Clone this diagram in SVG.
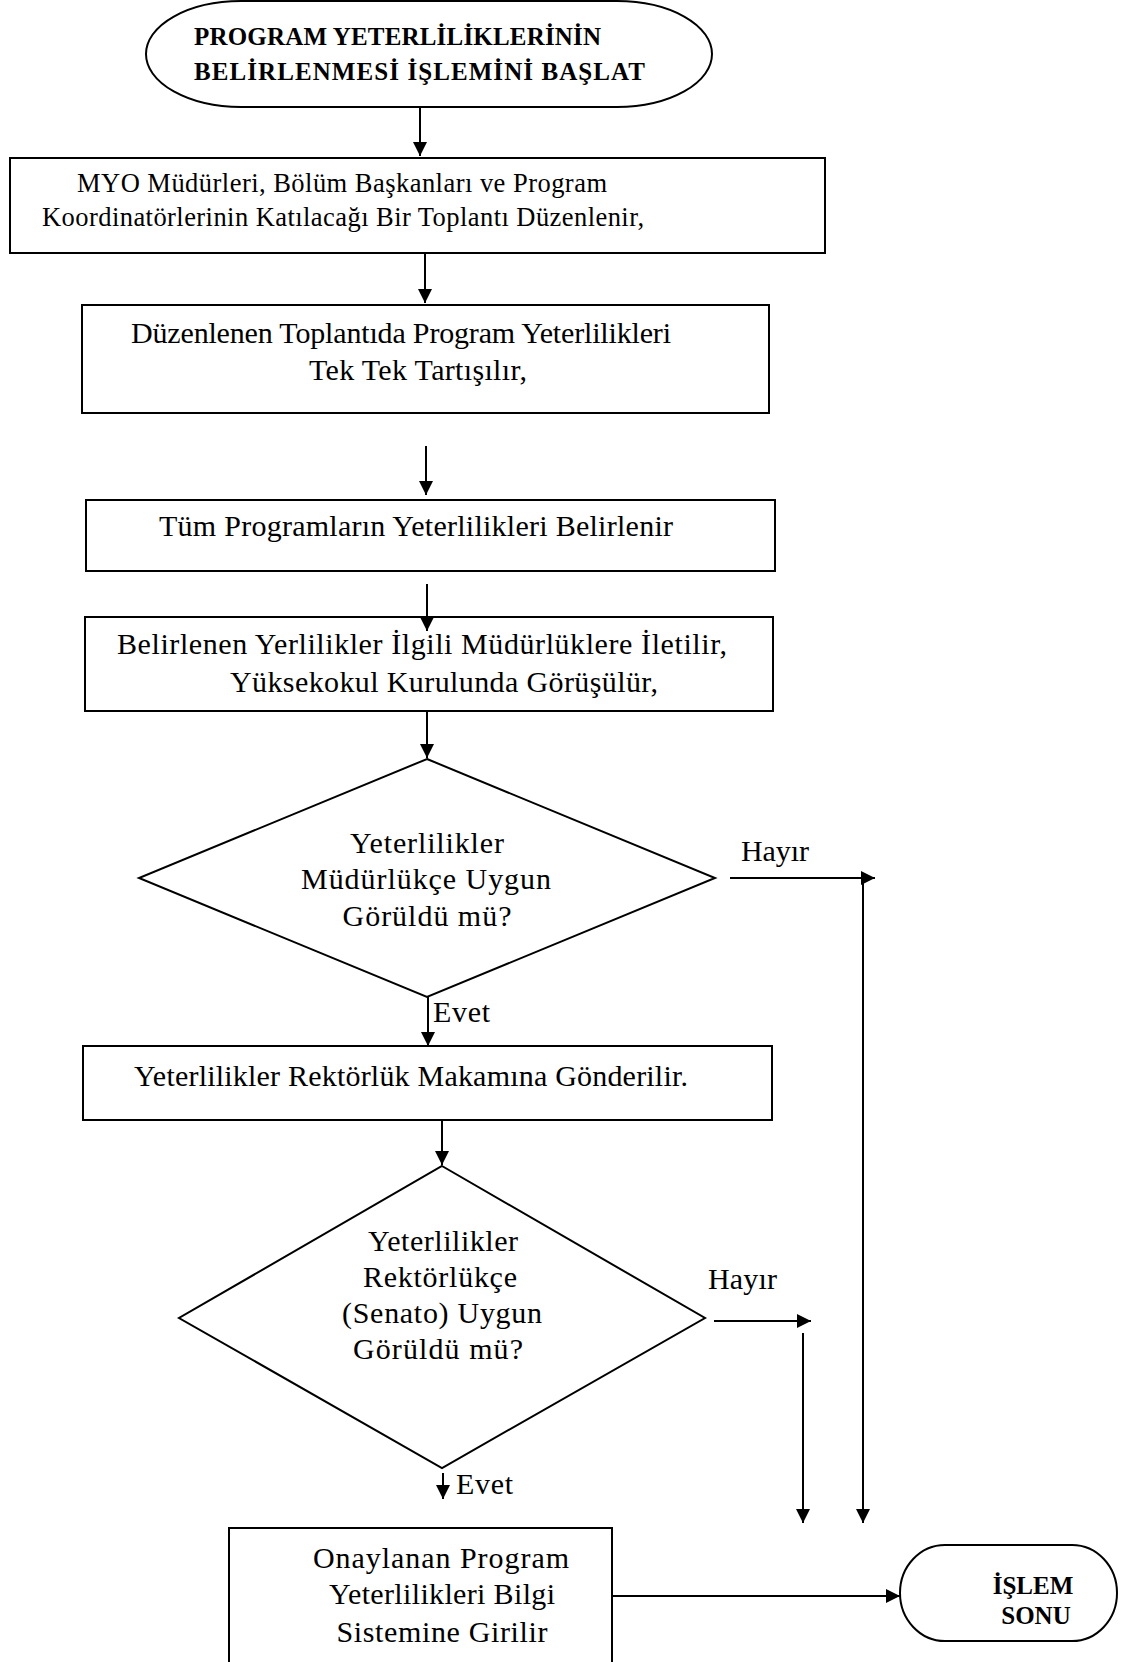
<svg xmlns="http://www.w3.org/2000/svg" width="1139" height="1662" viewBox="0 0 1139 1662">
<style>
.shape{fill:#fff;stroke:#000;stroke-width:2}
.conn{fill:none;stroke:#000;stroke-width:2}
text{font-family:"Liberation Serif","Times New Roman",serif;fill:#000}
.t{font-size:30px}
.s{font-size:26.5px}
.b{font-size:25px;font-weight:bold}
.m{text-anchor:middle}
</style>
<defs>
<marker id="ah" markerUnits="userSpaceOnUse" markerWidth="15" markerHeight="14" refX="14" refY="7" orient="auto" viewBox="0 0 15 14">
<path d="M0,0 L14,7 L0,14 z" fill="#000"/>
</marker>
</defs>
<rect width="1139" height="1662" fill="#fff"/>

<g id="start">
<rect class="shape" x="146" y="1" width="566" height="106" rx="95" ry="53"/>
<text class="b" x="194" y="45" textLength="407">PROGRAM YETERLİLİKLERİNİN</text>
<text class="b" x="194" y="80" textLength="451">BELİRLENMESİ İŞLEMİNİ BAŞLAT</text>
</g>

<g id="box1">
<rect class="shape" x="10" y="158" width="815" height="95"/>
<text class="s" x="77" y="192" textLength="530">MYO Müdürleri, Bölüm Başkanları ve Program</text>
<text class="s" x="42" y="226" textLength="602">Koordinatörlerinin Katılacağı Bir Toplantı Düzenlenir,</text>
</g>

<g id="box2">
<rect class="shape" x="82" y="305" width="687" height="108"/>
<text class="t" x="131" y="343" textLength="540">Düzenlenen Toplantıda Program Yeterlilikleri</text>
<text class="t" x="309" y="380" textLength="218">Tek Tek Tartışılır,</text>
</g>

<g id="box3">
<rect class="shape" x="86" y="500" width="689" height="71"/>
<text class="t" x="159" y="536" textLength="514">Tüm Programların Yeterlilikleri Belirlenir</text>
</g>

<g id="box4">
<rect class="shape" x="85" y="617" width="688" height="94"/>
<text class="t" x="117" y="654" textLength="610">Belirlenen Yerlilikler İlgili Müdürlüklere İletilir,</text>
<text class="t" x="230" y="692" textLength="428">Yüksekokul  Kurulunda  Görüşülür,</text>
</g>

<g id="decision1">
<polygon class="shape" points="427,759 715,878 427,997 139,878"/>
<text class="t m" x="427" y="853" textLength="154">Yeterlilikler</text>
<text class="t m" x="426" y="889" textLength="250">Müdürlükçe Uygun</text>
<text class="t m" x="427" y="926" textLength="169">Görüldü mü?</text>
</g>

<g id="box5">
<rect class="shape" x="83" y="1046" width="689" height="74"/>
<text class="t" x="134" y="1086" textLength="554">Yeterlilikler Rektörlük Makamına Gönderilir.</text>
</g>

<g id="decision2">
<polygon class="shape" points="442,1166 705,1318 442,1468 179,1318"/>
<text class="t m" x="443" y="1251" textLength="150">Yeterlilikler</text>
<text class="t m" x="440" y="1287" textLength="154">Rektörlükçe</text>
<text class="t m" x="442" y="1323" textLength="200">(Senato) Uygun</text>
<text class="t m" x="438" y="1359" textLength="170">Görüldü mü?</text>
</g>

<g id="box6">
<rect class="shape" x="229" y="1528" width="383" height="140"/>
<text class="t m" x="441" y="1568" textLength="256">Onaylanan Program</text>
<text class="t m" x="442" y="1604" textLength="226">Yeterlilikleri Bilgi</text>
<text class="t m" x="442" y="1642" textLength="211">Sistemine Girilir</text>
</g>

<g id="end">
<rect class="shape" x="900" y="1545" width="217" height="96" rx="45" ry="48"/>
<text class="b m" x="1033" y="1594">İŞLEM</text>
<text class="b m" x="1036" y="1624">SONU</text>
</g>

<g id="connectors">
<line class="conn" x1="420" y1="107" x2="420" y2="156" marker-end="url(#ah)"/>
<line class="conn" x1="425" y1="253" x2="425" y2="303" marker-end="url(#ah)"/>
<line class="conn" x1="426" y1="446" x2="426" y2="495" marker-end="url(#ah)"/>
<line class="conn" x1="427" y1="584" x2="427" y2="631" marker-end="url(#ah)"/>
<line class="conn" x1="427" y1="711" x2="427" y2="758" marker-end="url(#ah)"/>
<line class="conn" x1="428" y1="997" x2="428" y2="1046" marker-end="url(#ah)"/>
<line class="conn" x1="442" y1="1120" x2="442" y2="1165" marker-end="url(#ah)"/>
<line class="conn" x1="443" y1="1473" x2="443" y2="1499" marker-end="url(#ah)"/>
<line class="conn" x1="612" y1="1596" x2="900" y2="1596" marker-end="url(#ah)"/>
<line class="conn" x1="730" y1="878" x2="875" y2="878" marker-end="url(#ah)"/>
<line class="conn" x1="863" y1="878" x2="863" y2="1523" marker-end="url(#ah)"/>
<line class="conn" x1="714" y1="1321" x2="811" y2="1321" marker-end="url(#ah)"/>
<line class="conn" x1="803" y1="1333" x2="803" y2="1523" marker-end="url(#ah)"/>
<text class="t" x="741" y="861" textLength="68">Hayır</text>
<text class="t" x="708" y="1289" textLength="69">Hayır</text>
<text class="t" x="433" y="1022" textLength="57">Evet</text>
<text class="t" x="456" y="1494" textLength="57">Evet</text>
</g>
</svg>
